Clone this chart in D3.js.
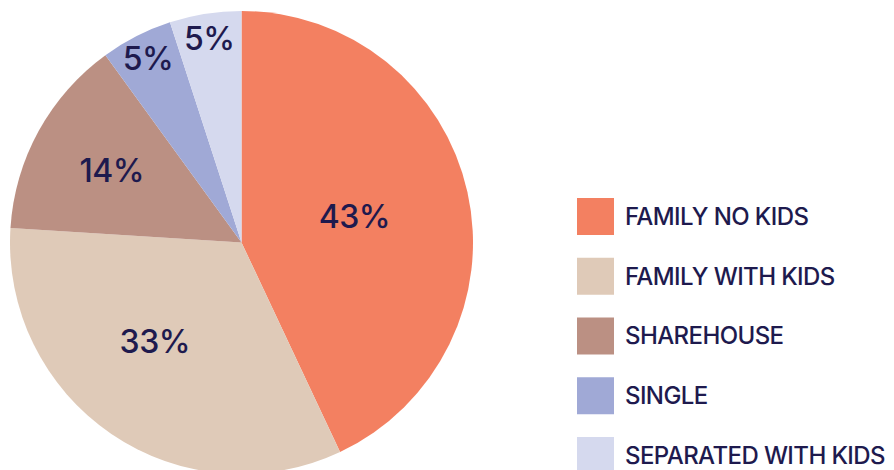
<!DOCTYPE html>
<html>
<head>
<meta charset="utf-8">
<script src="https://cdn.jsdelivr.net/npm/d3@7"></script>
<style>
  body { margin: 0; background: #fff; }
  text { font-family: Inter, 'Noto Sans', sans-serif; fill: #1e1a4e; }
</style>
</head>
<body>
<script>
const width = 894
const height = 470

// data
const categories = ['FAMILY NO KIDS', 'FAMILY WITH KIDS', 'SHAREHOUSE', 'SINGLE', 'SEPARATED WITH KIDS']
const values = [43, 33, 14, 5, 5]
const colors = ['#f38061', '#dfcab8', '#bb9083', '#a0a9d6', '#d5d9ee']

const data = categories.map((c, i) => ({ label: c, value: values[i] }))

const cx = 241.5
const cy = 242.5
const radius = 231.5

const svg = d3.select('body')
  .append('svg')
  .attr('width', width)
  .attr('height', height)

const g = svg.append('g')
  .attr('transform', `translate(${cx}, ${cy})`)

const pie = d3.pie()
  .sort(null)
  .value(d => d.value)

const arc = d3.arc()
  .innerRadius(0)
  .outerRadius(radius)

const color = d3.scaleOrdinal()
  .domain(categories)
  .range(colors)

const arcs = pie(data)

g.selectAll('path.slice')
  .data(arcs)
  .enter()
  .append('path')
  .attr('class', 'slice')
  .attr('d', arc)
  .attr('fill', d => color(d.data.label))

// small slices get their label pushed out toward the rim
function labelRadius (d) {
  if (d.data.value < 10) return radius * 0.89
  if (d.data.value < 20) return radius * 0.64
  if (d.data.value < 40) return radius * 0.57
  return radius * 0.5
}

g.selectAll('text.pct')
  .data(arcs)
  .enter()
  .append('text')
  .attr('class', 'pct')
  .attr('transform', d => {
    const r = labelRadius(d)
    const a = (d.startAngle + d.endAngle) / 2 + (d.data.value > 20 && d.data.value < 40 ? 0.12 : 0)
    return `translate(${r * Math.sin(a)}, ${-r * Math.cos(a)})`
  })
  .attr('text-anchor', 'middle')
  .attr('dy', '0.35em')
  .style('font-size', '32px')
  .style('font-weight', 500)
  .style('letter-spacing', '-0.5px')
  .text(d => d.data.value + '%')

/* ------- LEGEND ------- */
const legendY = d3.scalePoint()
  .domain(categories)
  .range([216.5, 455.5])

const legend = svg.append('g')
  .selectAll('g')
  .data(categories)
  .enter()
  .append('g')
  .attr('transform', d => `translate(577, ${legendY(d)})`)

legend.append('rect')
  .attr('x', 0)
  .attr('y', -18.5)
  .attr('width', 37)
  .attr('height', 37)
  .attr('fill', d => color(d))

legend.append('text')
  .attr('x', 48)
  .attr('dy', '0.35em')
  .style('font-size', '24px')
  .style('font-weight', 500)
  .style('letter-spacing', '-0.6px')
  .text(d => d)
</script>
</body>
</html>
